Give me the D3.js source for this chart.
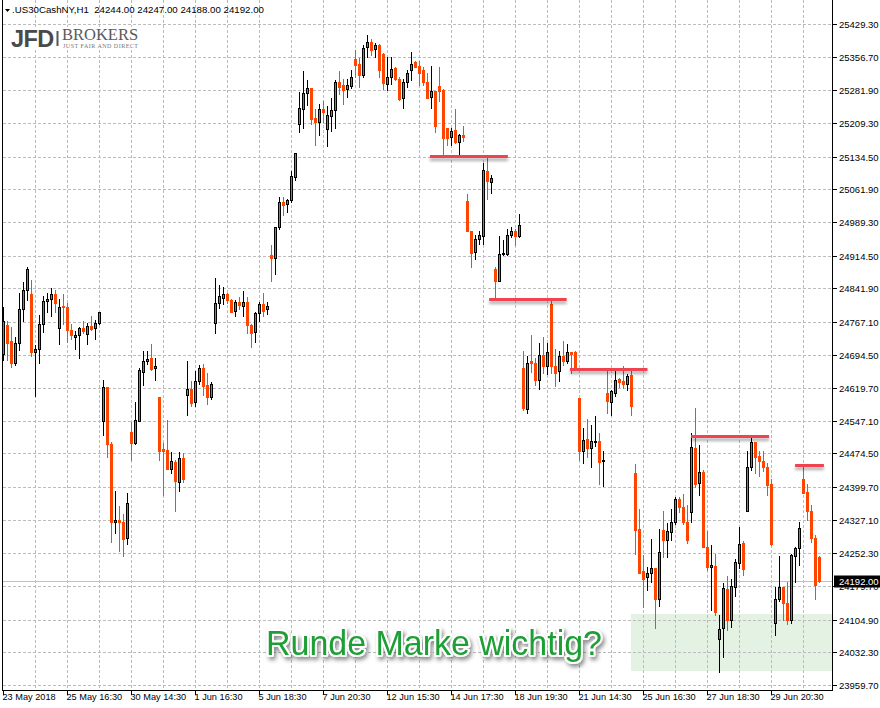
<!DOCTYPE html>
<html><head><meta charset="utf-8">
<script src="https://cdn.jsdelivr.net/npm/d3@7"></script>
<style>
html,body{margin:0;padding:0;background:#fff;}
svg{display:block;}
</style>
</head><body>
<svg id="chart" width="880" height="708"></svg>
<script>
// ---------------- DATA ----------------
const symbolName = ".US30CashNY,H1";
const headerValues = ["24244.00", "24247.00", "24188.00", "24192.00"];
const lastPrice = 24192.00;

const opens = [24695,24760,24725,24675,24719,24795,24839,24829,24701,24706,24762,24813,24819,24829,24753,24802,24799,24750,24734,24738,24753,24739,24758,24753,24764,
24547,24622,24496,24321,24327,24322,24286,24523,24498,24547,24656,24681,24687,24664,24599,24484,24482,24441,24456,24412,24464,24604,24617,24590,24636,24665,24627,24601,
24764,24810,24821,24830,24816,24791,24811,24802,24811,24760,24744,24786,24806,24795,24915,24908,24977,25034,25029,25038,25090,25208,25240,25275,25288,25220,25212,25240,
25195,25225,25237,25300,25294,25284,25292,25351,25340,25317,25379,25389,25373,25383,25363,25296,25312,25331,25308,25264,25300,25326,25345,25336,25326,25301,25266,25280,
25291,25283,25197,25177,25194,25166,25183,25036,24969,24923,24951,24958,25103,25079,24885,24857,24917,24919,24960,24968,24957,24665,24573,24679,24675,24638,24693,24668,
24807,24668,24658,24692,24679,24701,24699,24597,24479,24506,24486,24499,24502,24457,24610,24590,24610,24639,24636,24630,24649,24430,24306,24213,24199,24208,24219,24152,
24304,24282,24299,24321,24373,24356,24323,24344,24486,24408,24434,24267,24221,24225,24061,24086,24173,24104,24178,24232,24275,24347,24444,24500,24469,24458,24444,24407,
24098,24152,24177,24143,24104,24247,24264,24418,24388,24347,24286,24244];
const highs = [24801,24769,24755,24733,24832,24856,24888,24860,24716,24782,24825,24832,24842,24839,24817,24829,24810,24762,24747,24755,24768,24764,24780,24771,24790,
24638,24622,24501,24392,24358,24340,24387,24545,24590,24664,24703,24703,24718,24687,24599,24498,24549,24478,24461,24478,24476,24679,24636,24658,24671,24673,24653,24633,
24864,24849,24844,24832,24817,24816,24823,24836,24823,24762,24788,24812,24831,24812,24938,24979,25044,25044,25040,25103,25142,25279,25325,25305,25288,25240,25251,25258,
25247,25264,25305,25325,25306,25306,25326,25372,25353,25383,25405,25397,25386,25385,25364,25355,25355,25333,25311,25308,25327,25366,25348,25348,25333,25321,25336,25281,
25333,25284,25197,25197,25240,25184,25203,25051,24970,24960,24969,25121,25132,25094,24888,24958,24949,24973,24979,24973,25007,24702,24691,24738,24686,24721,24733,24721,
24814,24706,24703,24725,24718,24701,24703,24597,24530,24550,24538,24558,24519,24481,24658,24616,24664,24642,24668,24651,24660,24451,24350,24249,24221,24284,24219,24306,
24347,24319,24350,24377,24378,24384,24361,24521,24575,24493,24438,24301,24271,24251,24115,24187,24201,24195,24239,24312,24280,24480,24512,24501,24481,24481,24453,24417,
24178,24247,24177,24189,24251,24267,24321,24449,24406,24360,24293,24247];
const lows = [24682,24682,24666,24671,24705,24770,24816,24691,24603,24675,24745,24790,24781,24788,24717,24762,24723,24728,24707,24687,24743,24717,24749,24730,24762,
24516,24466,24278,24297,24258,24247,24273,24460,24496,24547,24627,24673,24659,24638,24461,24382,24441,24430,24347,24392,24410,24559,24580,24580,24629,24604,24584,24596,
24743,24797,24807,24810,24788,24781,24795,24780,24742,24711,24723,24768,24781,24785,24859,24874,24974,25005,25012,25034,25083,25190,25199,25249,25207,25160,25183,25212,
25158,25192,25199,25273,25252,25268,25286,25312,25290,25312,25355,25360,25355,25312,25284,25283,25297,25305,25260,25242,25290,25305,25334,25294,25294,25264,25242,25190,
25257,25136,25160,25160,25164,25136,25170,24968,24888,24906,24940,24940,25040,25053,24821,24857,24916,24916,24955,24938,24955,24570,24565,24656,24627,24617,24654,24651,
24654,24625,24636,24671,24675,24653,24660,24459,24453,24466,24445,24490,24407,24402,24565,24560,24602,24622,24619,24616,24560,24252,24209,24134,24172,24189,24086,24135,
24245,24244,24281,24318,24344,24318,24275,24323,24401,24382,24267,24215,24126,24115,23989,24023,24081,24089,24158,24219,24204,24347,24438,24432,24424,24436,24382,24271,
24071,24147,24104,24095,24098,24189,24227,24386,24327,24278,24150,24188];
const closes = [24769,24721,24675,24719,24795,24839,24884,24701,24707,24762,24813,24818,24829,24810,24799,24799,24750,24738,24738,24753,24747,24758,24752,24765,24788,
24622,24496,24321,24327,24321,24284,24364,24498,24549,24659,24680,24685,24663,24669,24481,24481,24441,24458,24414,24464,24417,24617,24587,24636,24664,24624,24601,24628,
24808,24825,24830,24816,24788,24811,24805,24811,24759,24743,24786,24806,24792,24802,24908,24977,25034,25027,25037,25091,25142,25242,25275,25288,25218,25212,25240,25234,
25228,25238,25300,25290,25283,25293,25311,25338,25317,25377,25389,25372,25383,25326,25299,25312,25329,25308,25262,25301,25320,25340,25334,25321,25300,25264,25280,25203,
25281,25175,25175,25191,25166,25182,25179,24968,24921,24951,24960,25105,25081,25086,24857,24918,24921,24960,24968,24959,24983,24575,24675,24675,24638,24693,24669,24701,
24668,24654,24691,24679,24701,24696,24660,24479,24504,24486,24502,24502,24456,24460,24592,24614,24638,24634,24629,24647,24580,24304,24209,24195,24208,24219,24152,24255,
24281,24301,24321,24373,24356,24323,24281,24488,24407,24433,24267,24223,24227,24123,24084,24175,24104,24180,24233,24273,24218,24444,24501,24466,24458,24444,24404,24273,
24152,24177,24143,24104,24249,24264,24308,24387,24347,24286,24182,24192];

const yTickLabels = ["25429.30","25356.70","25281.90","25209.30","25134.50","25061.90","24989.30","24914.50","24841.90","24767.10","24694.50",
  "24619.70","24547.10","24474.50","24399.70","24327.10","24252.30","24179.70","24104.90","24032.30","23959.70"];
const xTickBars = [0,16,32,48,64,80,96,112,128,144,160,176,192];
const xTickLabels = ["23 May 2018","25 May 16:30","30 May 14:30","1 Jun 16:30","5 Jun 18:30","7 Jun 20:30","12 Jun 15:30",
  "14 Jun 17:30","18 Jun 19:30","21 Jun 14:30","25 Jun 16:30","27 Jun 18:30","29 Jun 20:30"];
const gridEveryBars = 8;

// resistance lines: price level, from bar, to bar
const levelPrices = [25136, 24817, 24662, 24513, 24449];
const levelFrom   = [106.6, 121.4, 141.6, 171.9, 197.9];
const levelTo     = [126.1, 140.8, 161.0, 191.4, 205.1];
// support zone
const zoneTop = 24118, zoneBottom = 23991, zoneFromBar = 156.9;
const annotationText = "Runde Marke wichtig?";

// ---------------- LAYOUT ----------------
const svg = d3.select("#chart");
const plotLeft = 2.5, plotRight = 832.5, plotBottom = 690.5;
const barStep = 4, firstBarX = 3.5;
const n = opens.length;
const x = d3.scaleLinear().domain([0, n - 1]).range([firstBarX, firstBarX + barStep * (n - 1)]);
const y = d3.scaleLinear().domain([+yTickLabels[yTickLabels.length-1], +yTickLabels[0]]).range([685, 24]);
const row = v => Math.round(y(v));

const BULL = "#3ca46e", BEAR = "#ff4500", GRID = "#bcbcbc";
const SANS = "'Liberation Sans', Arial, sans-serif";

const defs = svg.append("defs");
defs.append("filter").attr("id","lvlShadow").attr("x","-5%").attr("y","-300%").attr("width","110%").attr("height","800%")
  .append("feDropShadow").attr("dx",0).attr("dy",3).attr("stdDeviation",1.6).attr("flood-color","#000").attr("flood-opacity",0.32);
defs.append("filter").attr("id","txtShadow").attr("x","-5%").attr("y","-30%").attr("width","115%").attr("height","170%")
  .append("feDropShadow").attr("dx",2).attr("dy",3).attr("stdDeviation",2).attr("flood-color","#000").attr("flood-opacity",0.45);

svg.append("rect").attr("width",880).attr("height",708).attr("fill","#fff");

// zone
svg.append("rect")
  .attr("x", Math.round(x(zoneFromBar))).attr("y", row(zoneTop))
  .attr("width", plotRight - 0.5 - Math.round(x(zoneFromBar)))
  .attr("height", row(zoneBottom) - row(zoneTop))
  .attr("fill", "#e4f2e4");

// grid
const grid = svg.append("g").attr("stroke", GRID).attr("stroke-dasharray","3,2").attr("shape-rendering","crispEdges");
yTickLabels.forEach(t => {
  const yy = row(+t) + 0.5;
  grid.append("line").attr("x1", plotLeft).attr("x2", plotRight).attr("y1", yy).attr("y2", yy);
});
for (let b = gridEveryBars; b < n; b += gridEveryBars) {
  grid.append("line").attr("x1", x(b)).attr("x2", x(b)).attr("y1", 0).attr("y2", plotBottom);
}

// bid line
svg.append("line").attr("x1", plotLeft).attr("x2", plotRight)
  .attr("y1", row(lastPrice)+0.5).attr("y2", row(lastPrice)+0.5)
  .attr("stroke","#c0c0c0").attr("shape-rendering","crispEdges");

// candles
const cg = svg.append("g").attr("shape-rendering","crispEdges");
d3.range(n).forEach(i => {
  const o = opens[i], h = highs[i], l = lows[i], c = closes[i];
  const bull = c >= o;
  const cx = x(i);
  const rH = row(h), rL = row(l);
  cg.append("line").attr("x1", cx).attr("x2", cx).attr("y1", rH).attr("y2", rL + 1)
    .attr("stroke", bull ? "#000" : BEAR).attr("stroke-width", 1);
  let rT = row(Math.max(o, c)), rB = row(Math.min(o, c));
  if (bull) {
    if (rB <= rT) rB = rT + 1;
    cg.append("rect").attr("x", cx - 1).attr("y", rT + 0.5).attr("width", 2).attr("height", rB - rT)
      .attr("fill", BULL).attr("stroke", "#000").attr("stroke-width", 1);
  } else {
    cg.append("rect").attr("x", cx - 1.5).attr("y", rT).attr("width", 3).attr("height", Math.max(1, rB - rT + 1))
      .attr("fill", BEAR);
  }
});

// resistance levels
const lg = svg.append("g");
levelPrices.forEach((p, k) => {
  const x1 = x(levelFrom[k]), x2 = Math.min(x(levelTo[k]), plotRight - 6);
  lg.append("rect").attr("x", x1).attr("y", row(p) - 1).attr("width", x2 - x1).attr("height", 3)
    .attr("fill", "#f0424f").attr("filter", "url(#lvlShadow)");
});

// borders
svg.append("line").attr("x1", plotLeft).attr("x2", plotLeft).attr("y1", 0).attr("y2", plotBottom).attr("stroke","#000").attr("shape-rendering","crispEdges");
svg.append("line").attr("x1", plotRight).attr("x2", plotRight).attr("y1", 0).attr("y2", plotBottom).attr("stroke","#000").attr("shape-rendering","crispEdges");
svg.append("line").attr("x1", plotLeft).attr("x2", plotRight).attr("y1", plotBottom).attr("y2", plotBottom).attr("stroke","#000").attr("shape-rendering","crispEdges");

// y axis labels
const ya = svg.append("g").attr("font-family", SANS).attr("font-size","9.5px").attr("fill","#000");
yTickLabels.forEach(t => {
  const yy = row(+t) + 0.5;
  ya.append("line").attr("x1", plotRight).attr("x2", plotRight + 4).attr("y1", yy).attr("y2", yy).attr("stroke","#000").attr("shape-rendering","crispEdges");
  ya.append("text").attr("x", 839).attr("y", yy).attr("dy","0.35em").text(t);
});
// current price box (drawn over the partly hidden neighbouring tick label, as in the terminal)
const ry = row(lastPrice) + 0.5;
svg.append("rect").attr("x", 834).attr("y", ry - 6).attr("width", 46).attr("height", 12).attr("fill","#000");
svg.append("text").attr("x", 839).attr("y", ry).attr("dy","0.35em").attr("fill","#fff")
  .attr("font-family", SANS).attr("font-size","9.5px").text(lastPrice.toFixed(2));

// x axis labels
const xa = svg.append("g").attr("font-family", SANS).attr("font-size","9.2px").attr("fill","#000");
xTickBars.forEach((b, k) => {
  xa.append("line").attr("x1", x(b)).attr("x2", x(b)).attr("y1", plotBottom).attr("y2", plotBottom + 4).attr("stroke","#000").attr("shape-rendering","crispEdges");
  xa.append("text").attr("x", x(b) - 1).attr("y", 700).text(xTickLabels[k]);
});

// title
svg.append("path").attr("d","M5,9 L10,9 L7.5,12 Z").attr("fill","#000");
svg.append("text").attr("x", 12).attr("y", 13).attr("font-family", SANS)
  .attr("font-size","9.7px").attr("fill","#000").attr("xml:space","preserve")
  .text(symbolName + "  " + headerValues.join(" "));

// logo
const logo = svg.append("g");
logo.append("rect").attr("x", 8).attr("y", 27).attr("width", 133).attr("height", 23).attr("fill","#fff");
logo.append("text").attr("x", 11).attr("y", 47).attr("font-family", SANS)
  .attr("font-weight","bold").attr("font-size","23.5px").attr("fill","#4a4a4a").attr("letter-spacing","-0.6").text("JFD");
logo.append("rect").attr("x", 56.5).attr("y", 31).attr("width", 2).attr("height", 15).attr("fill","#555");
logo.append("text").attr("x", 62).attr("y", 40).attr("font-family","'Liberation Serif', 'Times New Roman', serif")
  .attr("font-size","16.5px").attr("fill","#5a5a5a").text("BROKERS");
logo.append("text").attr("x", 63).attr("y", 47.5).attr("font-family","'Liberation Serif', 'Times New Roman', serif")
  .attr("font-size","6px").attr("fill","#777").attr("textLength", 75).attr("lengthAdjust","spacing").text("JUST FAIR AND DIRECT");

// annotation
svg.append("text").attr("x", 266).attr("y", 655)
  .attr("font-family", SANS).attr("font-size","34.5px")
  .attr("textLength", 336).attr("lengthAdjust","spacingAndGlyphs")
  .attr("fill","#1f9f36").attr("stroke","#fff").attr("stroke-width",4).attr("stroke-linejoin","round")
  .attr("paint-order","stroke").attr("filter","url(#txtShadow)")
  .text(annotationText);
</script>
</body></html>
